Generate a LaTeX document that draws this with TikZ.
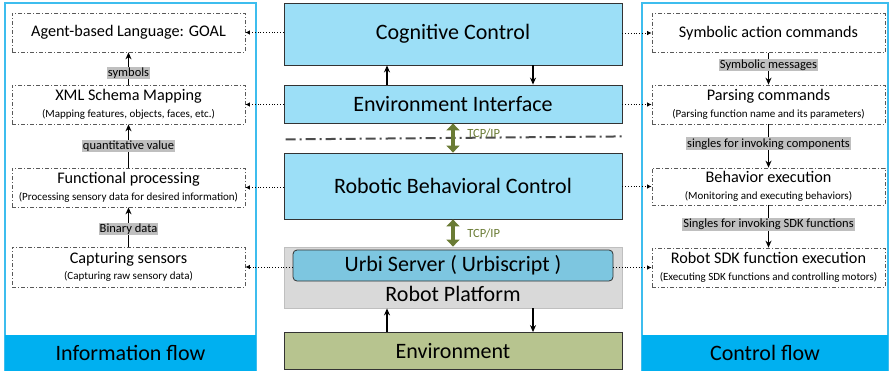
\documentclass[tikz,border=0pt]{standalone}
\usepackage{fontspec}
\setmainfont{Carlito}
\usetikzlibrary{arrows.meta, calc}
\definecolor{cLayer}{HTML}{9CDFF7}
\definecolor{cUrbi}{HTML}{7DC6E0}
\definecolor{cPlat}{HTML}{D9D9D9}
\definecolor{cEnv}{HTML}{B7C48F}
\definecolor{cBar}{HTML}{00B0F0}
\definecolor{cPanel}{HTML}{3DBDEE}
\definecolor{cTcp}{HTML}{6A7B34}
\definecolor{cTag}{HTML}{BFBFBF}
\tikzset{
    layer/.style ={draw=black!80, line width=0.8pt, fill=cLayer, minimum width=338pt,
                   font=\fontsize{22}{25}\selectfont},
    stage/.style ={draw=black!65, line width=0.7pt,
                   dash pattern=on 4pt off 2pt on 1pt off 2pt,
                   minimum width=233pt, minimum height=39pt, align=center, inner sep=1pt,
                   font=\fontsize{16.2}{17.5}\selectfont},
    panel/.style ={draw=cPanel, line width=1.2pt},
    bar/.style   ={fill=cBar, minimum height=36pt, font=\fontsize{22}{25}\selectfont},
    tag/.style   ={fill=cTag, inner sep=1pt, font=\fontsize{12.5}{14}\selectfont},
    flow/.style  ={-{Stealth[length=7pt, width=6pt]}, line width=1.4pt},
    link/.style  ={-{Latex[length=4.5pt, width=4.5pt]}, dotted, line width=0.8pt},
    tcp/.style   ={{Triangle[length=7pt, width=13pt]}-{Triangle[length=7pt, width=13pt]},
                   line width=4.5pt, cTcp},
    tcplbl/.style={font=\fontsize{12.5}{14}\selectfont, text=cTcp, inner sep=2pt},
    sep/.style   ={draw=black!70, line width=2pt,
                   dash pattern=on 10pt off 4pt on 2pt off 4pt},
}
\newcommand{\detail}[1]{\\[-1pt]{\fontsize{11}{13}\selectfont #1}}

\begin{document}
\begin{tikzpicture}[x=1pt, y=-1pt]
\useasboundingbox (0,0) rectangle (890,370);

% ===================== Panels =====================
\node[panel, minimum width=251pt, minimum height=368pt] (infopanel) at (130.5,187) {};
\node[bar, anchor=south, minimum width=251pt] (infobar) at (infopanel.south) {Information flow};
\node[panel, minimum width=246pt, minimum height=368pt] (ctrlpanel) at (765,187) {};
\node[bar, anchor=south, minimum width=246pt] (ctrlbar) at (ctrlpanel.south) {Control flow};

% ===================== Central layers =====================
\node[layer, minimum height=62pt] (cog) at (453,34)  {Cognitive Control};
\node[layer, minimum height=38pt] (env) at (453,104) {Environment Interface};
\node[layer, minimum height=66pt] (rbc) at (453,186) {Robotic Behavioral Control};
\node[draw=black!25, line width=0.8pt, fill=cPlat, minimum width=338pt, minimum height=61pt]
     (plat) at (453,277.5) {};
\node[draw=black!80, line width=0.8pt, fill=cUrbi, rounded corners=4pt, inner sep=1pt,
      minimum width=320pt, minimum height=31pt, font=\fontsize{22}{25}\selectfont]
     (urbi) at (453,265.5) {Urbi Server ( Urbiscript )};
\node[font=\fontsize{22}{25}\selectfont, inner sep=1pt] (platlbl) at (453,294) {Robot Platform};
\node[layer, fill=cEnv, minimum height=37pt] (envt) at (453,351) {Environment};

\draw[flow] ($(env.north)+(-66,0)$) -- ($(cog.south)+(-66,0)$);
\draw[flow] ($(cog.south)+(80,0)$) -- ($(env.north)+(80,0)$);
\draw[flow] ($(envt.north)+(-66,0)$) -- ($(plat.south)+(-66,0)$);
\draw[flow] ($(plat.south)+(80,0)$) -- ($(envt.north)+(80,0)$);

% TCP/IP links and the separator line
\draw[sep] ($(env.south west)+(2,16)$) -- ($(env.south east)+(2,13)$);
\draw[tcp] (env.south) -- (rbc.north) node[midway, right, tcplbl, xshift=10pt, yshift=5pt] {TCP/IP};
\draw[tcp] (rbc.south) -- (plat.north) node[midway, right, tcplbl, xshift=10pt] {TCP/IP};

% ===================== Information flow =====================
\node[stage] (goal) at (128.5,32.5) {Agent-based Language: GOAL};
\node[stage] (xml)  at (128.5,104.5)
     {XML Schema Mapping\detail{(Mapping features, objects, faces, etc.)}};
\node[stage] (func) at (128.5,187.5)
     {Functional processing\detail{(Processing sensory data for desired information)}};
\node[stage, minimum height=40pt] (capt) at (128.5,267)
     {Capturing sensors\detail{(Capturing raw sensory data)}};

\draw[flow] (xml.north) -- (goal.south) node[pos=0.36, tag] {symbols};
\draw[flow] (func.north) -- (xml.south) node[midway, tag] {quantitative value};
\draw[flow] (capt.north) -- (func.south) node[pos=0.45, tag] {Binary data};

% ===================== Control flow =====================
\node[stage] (sym)   at (768.5,33)  {Symbolic action commands};
\node[stage] (parse) at (768.5,104.5)
     {Parsing commands\detail{(Parsing function name and its parameters)}};
\node[stage, minimum height=37pt] (behav) at (768.5,186.5)
     {Behavior execution\detail{(Monitoring and executing behaviors)}};
\node[stage] (sdk)   at (768.5,267.5)
     {Robot SDK function execution\detail{(Executing SDK functions and controlling motors)}};

\draw[flow] (sym.south) -- (parse.north) node[pos=0.38, tag] {Symbolic messages};
\draw[flow] (parse.south) -- (behav.north) node[pos=0.45, tag] {singles for invoking components};
\draw[flow] (behav.south) -- (sdk.north) node[pos=0.45, tag] {Singles for invoking SDK functions};

% ===================== Layer to stage links =====================
\draw[link] (cog.west |- goal.east) -- (goal.east);
\draw[link] (env.west |- xml.east)  -- (xml.east);
\draw[link] (rbc.west |- func.east) -- (func.east);
\draw[link] (urbi.west |- capt.east) -- (capt.east);
\draw[link] (cog.east |- sym.west)   -- (sym.west);
\draw[link] (env.east |- parse.west) -- (parse.west);
\draw[link] (rbc.east |- behav.west) -- (behav.west);
\draw[link] (urbi.east |- sdk.west)  -- (sdk.west);

\end{tikzpicture}
\end{document}
